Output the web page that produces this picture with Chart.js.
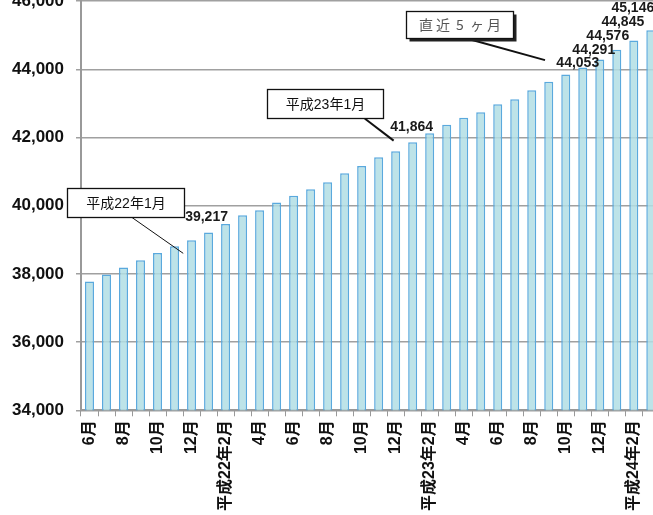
<!DOCTYPE html>
<html>
<head>
<meta charset="utf-8">
<script src="https://cdn.jsdelivr.net/npm/chart.js@4.4.1/dist/chart.umd.min.js"></script>
<style>
  html, body { margin: 0; padding: 0; background: #fff; overflow: hidden; width: 653px; height: 515px; }
  #wrap { position: absolute; left: 0; top: -21px; width: 674px; height: 536px; }
</style>
</head>
<body>
<div id="wrap"><canvas id="chart"></canvas></div>
<script>
// months from 平成21年6月 to 平成24年3月
const months = [
  "平成21年6月", "7月", "8月", "9月", "10月", "11月", "12月",
  "平成22年1月", "2月", "3月", "4月", "5月", "6月", "7月", "8月", "9月", "10月", "11月", "12月",
  "平成23年1月", "2月", "3月", "4月", "5月", "6月", "7月", "8月", "9月", "10月", "11月", "12月",
  "平成24年1月", "2月", "3月"
];

// labels shown under the axis (every other month)
const tickLabels = [
  "6月", "", "8月", "", "10月", "", "12月",
  "", "平成22年2月", "", "4月", "", "6月", "", "8月", "", "10月", "", "12月",
  "", "平成23年2月", "", "4月", "", "6月", "", "8月", "", "10月", "", "12月",
  "", "平成24年2月", ""
];

const values = [
  37780, 37980, 38190, 38405, 38612, 38811, 38988,
  39217, 39462, 39722, 39870, 40098, 40296, 40483, 40690, 40956, 41165, 41422, 41600,
  41864, 42130, 42376, 42583, 42740, 42976, 43124, 43391, 43639, 43852, 44053, 44291,
  44576, 44845, 45146
];

// bars with a value written above them
const labelledBars = [7, 19, 29, 30, 31, 32, 33];

const yMin = 34000;
const yMax = 46000;
const yStep = 2000;

// text offsets for the value labels (px, from bar top)
const labelShift = { 7: [-2, -15], 19: [-1, -15], 29: [-5, -4], 30: [-6, -9], 31: [-9, -14], 32: [-11, -18], 33: [-18, -22] };

// callout boxes, anchored in data units (category index, value)
const callouts = [
  { text: "平成22年1月", cx: 2.12, cy: 40095, w: 117, h: 29, from: 2.5, tx: 5.51, ty: 38604, lw: 1, shadow: false },
  { text: "平成23年1月", cx: 13.82, cy: 42988, w: 116, h: 29, from: 16.18, tx: 17.88, ty: 41910, lw: 2, shadow: false },
  { text: "直近5ヶ月", cx: 21.74, cy: 45319, w: 107, h: 27, from: 22.18, tx: 26.78, ty: 44271, lw: 2, shadow: true }
];

const notes = {
  id: "notes",
  afterDatasetsDraw(c) {
    const ctx = c.ctx;
    const xs = c.scales.x, ys = c.scales.y;
    const meta = c.getDatasetMeta(0);
    ctx.save();
    ctx.font = "bold 14px 'Liberation Sans', Arial, sans-serif";
    ctx.fillStyle = "#1a1a1a";
    ctx.textAlign = "center";
    ctx.textBaseline = "middle";
    labelledBars.forEach(i => {
      const bar = meta.data[i];
      const s = labelShift[i];
      ctx.fillText(values[i].toLocaleString("en-US"), bar.x + s[0], bar.y + s[1]);
    });

    callouts.forEach(o => {
      const x = xs.getPixelForValue(o.cx), y = ys.getPixelForValue(o.cy);
      const left = Math.round(x - o.w / 2) + 0.5, top = Math.round(y - o.h / 2) + 0.5;
      // pointer line
      ctx.strokeStyle = "#111";
      ctx.lineWidth = o.lw;
      ctx.beginPath();
      ctx.moveTo(xs.getPixelForValue(o.from), top + o.h);
      ctx.lineTo(xs.getPixelForValue(o.tx), ys.getPixelForValue(o.ty));
      ctx.stroke();
      if (o.shadow) {
        ctx.fillStyle = "#222";
        ctx.fillRect(left + 3, top + 3, o.w, o.h);
      }
      ctx.fillStyle = "#fff";
      ctx.fillRect(left, top, o.w, o.h);
      ctx.lineWidth = 1.3;
      ctx.strokeStyle = "#111";
      ctx.strokeRect(left, top, o.w, o.h);
      if (o.shadow) {
        ctx.fillStyle = "#555";
        ctx.font = "14px 'Noto Sans CJK JP', sans-serif";
        const chars = Array.from(o.text);
        const step = 17;
        const start = left + o.w / 2 - step * (chars.length - 1) / 2;
        chars.forEach((ch, k) => ctx.fillText(ch, start + k * step, top + o.h / 2));
      } else {
        ctx.fillStyle = "#111";
        ctx.font = "14px 'Liberation Sans', 'Noto Sans CJK JP', sans-serif";
        ctx.fillText(o.text, left + o.w / 2, top + o.h / 2 + 1);
      }
    });
    ctx.restore();
  }
};

new Chart(document.getElementById("chart"), {
  type: "bar",
  data: {
    labels: months,
    datasets: [{
      data: values,
      backgroundColor: "rgba(178, 222, 228, 0.85)",
      borderColor: "#5aa9dd",
      borderWidth: { left: 1.5, right: 1.5, top: 1.5, bottom: 0 },
      borderSkipped: "bottom",
      barPercentage: 0.53,
      categoryPercentage: 1
    }]
  },
  options: {
    responsive: true,
    maintainAspectRatio: false,
    animation: false,
    layout: { padding: { left: 0, right: 0, top: 0, bottom: 0 } },
    plugins: { legend: { display: false }, tooltip: { enabled: false } },
    scales: {
      x: {
        offset: true,
        grid: { display: true, drawOnChartArea: false, color: "#999", tickLength: 6, offset: true },
        border: { color: "#999", width: 2 },
        ticks: {
          autoSkip: false,
          maxRotation: 90,
          minRotation: 90,
          padding: 4,
          color: "#111",
          font: { family: "'Liberation Sans', 'Noto Sans CJK JP', sans-serif", size: 16, weight: "bold" },
          callback: (v, i) => tickLabels[i]
        }
      },
      y: {
        min: yMin,
        max: yMax,
        grid: { color: "#a0a0a0", lineWidth: 1.5, tickLength: 5 },
        border: { color: "#999", width: 2 },
        ticks: {
          stepSize: yStep,
          padding: 12,
          color: "#111",
          font: { family: "'Liberation Sans', Arial, sans-serif", size: 17, weight: "bold" },
          callback: v => v.toLocaleString("en-US")
        }
      }
    }
  },
  plugins: [notes]
});
</script>
</body>
</html>
